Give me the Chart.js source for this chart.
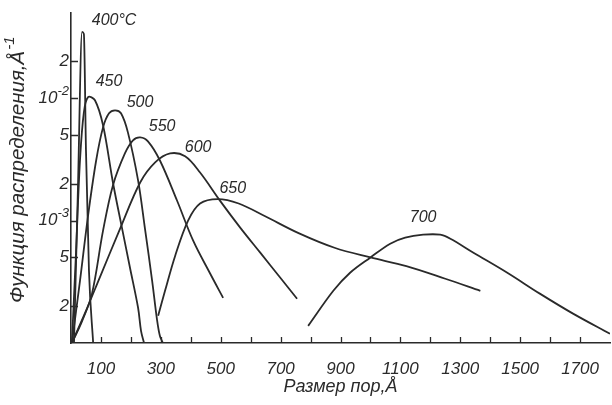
<!DOCTYPE html>
<html><head><meta charset="utf-8">
<script src="https://cdn.jsdelivr.net/npm/chart.js@4.4.1/dist/chart.umd.min.js"></script>
<style>html,body{margin:0;padding:0;background:#fff;}canvas{display:block}</style>
</head><body>
<canvas id="c" width="612" height="405"></canvas>
<script>
// Series labels (treatment temperature)
const seriesNames = ['400°C', '450', '500', '550', '600', '650', '700'];

// Pore size (Å) and distribution function (Å⁻¹)
const size400 = [10, 23, 37, 43, 50, 60, 74];
const f400    = [1e-4, 0.00176, 0.0348, 0.0335, 0.00375, 0.000389, 1e-4];

const size450 = [3, 17, 30, 43, 57, 80, 107, 140, 170, 197, 224, 234, 244];
const f450    = [1e-4, 0.000568, 0.0031, 0.00768, 0.0102, 0.00963, 0.00601, 0.00205, 0.000877, 0.000412, 0.000194, 0.000125, 1e-4];

const size500 = [3, 30, 57, 84, 107, 127, 147, 167, 190, 224, 247, 271, 287, 297, 307];
const f500    = [1e-4, 0.000322, 0.0011, 0.0031, 0.00578, 0.00753, 0.00797, 0.00753, 0.00526, 0.00213, 0.00086, 0.000322, 0.000157, 0.000114, 1e-4];

const size550 = [3, 37, 70, 107, 140, 180, 207, 231, 257, 297, 354, 408, 465, 508];
const f550    = [1e-4, 0.000151, 0.000252, 0.000828, 0.00194, 0.00354, 0.00453, 0.00479, 0.00444, 0.0031, 0.00146, 0.000686, 0.000368, 0.000234];

const size600 = [3, 47, 97, 164, 231, 281, 331, 381, 431, 498, 565, 632, 699, 755];
const f600    = [1e-4, 0.000176, 0.000347, 0.00086, 0.00205, 0.00299, 0.00354, 0.00335, 0.00247, 0.00145, 0.000877, 0.000547, 0.000341, 0.00023];

const size650 = [291, 314, 348, 391, 431, 490, 560, 650, 760, 880, 1000, 1120, 1250, 1367];
const f650    = [0.000167, 0.000267, 0.000517, 0.001, 0.00138, 0.0015, 0.00138, 0.00108, 0.00079, 0.0006, 0.0005, 0.000425, 0.000335, 0.000267];

const size700 = [792, 876, 932, 999, 1066, 1116, 1176, 1233, 1267, 1344, 1457, 1567, 1678, 1800];
const f700    = [0.000138, 0.000267, 0.000375, 0.000498, 0.000648, 0.000726, 0.000767, 0.000767, 0.000711, 0.000547, 0.000375, 0.000252, 0.000173, 0.000119];

// Axis ticks
const xTickValues = [100, 200, 300, 400, 500, 600, 700, 800, 900, 1000, 1100, 1200, 1300, 1400, 1500, 1600, 1700];
const xTickLabels = ['100', '', '300', '', '500', '', '700', '', '900', '', '1100', '', '1300', '', '1500', '', '1700'];
const yTickValues = [0.02, 0.01, 0.005, 0.002, 0.001, 0.0005, 0.0002];
const yTickLabels = ['2', '10', '5', '2', '10', '5', '2'];
const yTickExponents = ['', '-2', '', '', '-3', '', ''];

// Axis titles
const xTitle = 'Размер пор,Å';
const yTitle = 'Функция распределения,Å';
const yTitleExponent = '-1';

const sizes = [size400, size450, size500, size550, size600, size650, size700];
const values = [f400, f450, f500, f550, f600, f650, f700];

const INK = '#2a2a2a';
const FONT = '"Liberation Sans", Arial, sans-serif';

const datasets = seriesNames.map((name, i) => ({
  label: name,
  data: sizes[i].map((x, k) => ({x: x, y: values[i][k]})),
  borderColor: INK,
  borderWidth: 1.8,
  pointRadius: 0,
  fill: false,
  tension: i === 0 ? 0 : 0.35,
  cubicInterpolationMode: i === 0 ? 'monotone' : 'default'
}));

// label offsets (px) relative to each curve's peak
const labelOffsets = [[32, -11], [21, -16], [25, -8], [22, -11], [28, -6], [15, -11], [0, -17]];

const decorPlugin = {
  id: 'decor',
  afterDatasetsDraw(chart) {
    const ctx = chart.ctx;
    const xs = chart.scales.x, ys = chart.scales.y;
    const area = chart.chartArea;
    ctx.save();
    ctx.strokeStyle = INK;
    ctx.lineWidth = 1.3;
    ctx.beginPath();
    xTickValues.forEach(v => {
      const px = Math.round(xs.getPixelForValue(v)) + 0.5;
      ctx.moveTo(px, area.bottom);
      ctx.lineTo(px, area.bottom - 6);
    });
    yTickValues.forEach(v => {
      const py = Math.round(ys.getPixelForValue(v)) + 0.5;
      ctx.moveTo(area.left, py);
      ctx.lineTo(area.left + 7, py);
    });
    ctx.stroke();

    ctx.fillStyle = INK;
    // y tick labels with superscript exponents
    ctx.textBaseline = 'middle';
    yTickValues.forEach((v, i) => {
      const py = ys.getPixelForValue(v);
      const right = area.left - 2;
      const exp = yTickExponents[i];
      ctx.textAlign = 'right';
      if (exp) {
        ctx.font = 'italic 13px ' + FONT;
        const ew = ctx.measureText(exp).width;
        ctx.fillText(exp, right, py - 7);
        ctx.font = 'italic 17px ' + FONT;
        ctx.fillText(yTickLabels[i], right - ew, py);
      } else {
        ctx.font = 'italic 17px ' + FONT;
        ctx.fillText(yTickLabels[i], right, py);
      }
    });

    // y-axis title, rotated, with superscript
    ctx.save();
    ctx.translate(24, 303);
    ctx.rotate(-Math.PI / 2);
    ctx.textAlign = 'left';
    ctx.textBaseline = 'alphabetic';
    ctx.font = 'italic 20.5px ' + FONT;
    const tw = ctx.measureText(yTitle).width;
    ctx.fillText(yTitle, 0, 0);
    ctx.font = 'italic 15px ' + FONT;
    ctx.fillText(yTitleExponent, tw + 1, -10);
    ctx.restore();

    // curve labels
    ctx.font = 'italic 16px ' + FONT;
    ctx.textAlign = 'center';
    ctx.textBaseline = 'middle';
    chart.data.datasets.forEach((ds, i) => {
      let best = ds.data[0];
      ds.data.forEach(p => { if (p.y > best.y) best = p; });
      const px = xs.getPixelForValue(best.x) + labelOffsets[i][0];
      const py = ys.getPixelForValue(best.y) + labelOffsets[i][1];
      ctx.fillText(ds.label, px, py);
    });
    ctx.restore();
  }
};

new Chart(document.getElementById('c'), {
  type: 'line',
  data: {datasets},
  plugins: [decorPlugin],
  options: {
    responsive: false,
    animation: false,
    events: [],
    layout: {padding: {top: 12.7, right: 2, left: 0, bottom: 0}},
    plugins: {legend: {display: false}, tooltip: {enabled: false}},
    scales: {
      x: {
        type: 'linear', min: 0, max: 1800,
        afterFit(s) { s.height = 62; s.paddingLeft = 0; s.paddingRight = 0; },
        grid: {display: true, drawOnChartArea: false, drawTicks: false},
        border: {display: true, color: INK, width: 1.6},
        ticks: {
          stepSize: 100, autoSkip: false, maxRotation: 0, padding: 16,
          color: INK, font: {family: FONT, size: 17, style: 'italic'},
          callback: (v) => { const i = xTickValues.indexOf(v); return i >= 0 ? xTickLabels[i] : ''; }
        },
        title: {display: true, text: xTitle, color: INK,
          font: {family: FONT, size: 18, style: 'italic'}, padding: {top: 0, bottom: 7}}
      },
      y: {
        type: 'logarithmic', min: 1e-4, max: 0.05,
        afterFit(s) { s.width = 71; s.paddingTop = 0; s.paddingBottom = 0; },
        afterBuildTicks(s) { s.ticks = yTickValues.map(v => ({value: v})); },
        grid: {display: true, drawOnChartArea: false, drawTicks: false},
        border: {display: true, color: INK, width: 1.6},
        ticks: {display: false},
        title: {display: false}
      }
    }
  }
});
</script>
</body></html>
